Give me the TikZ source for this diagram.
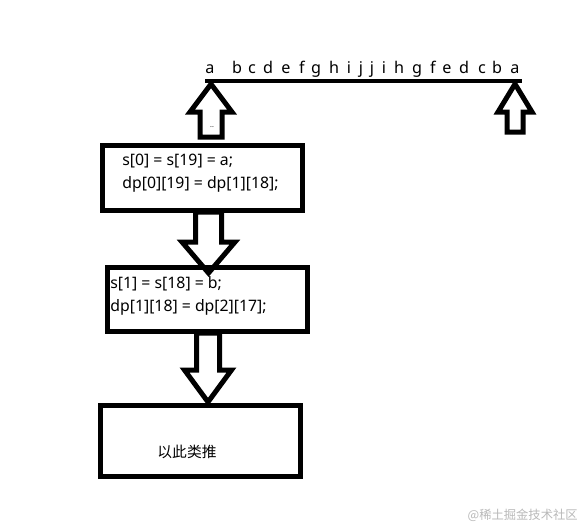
\documentclass[tikz,border=0pt]{standalone}
\usepackage{fontspec}
\setmainfont{Noto Sans}
\newfontfamily\cjk{Noto Sans CJK SC}
\usetikzlibrary{positioning}
\definecolor{MarkGray}{RGB}{185,185,185}
% block arrow: centre x, start y, head y, tip y, shaft half width, head half width
\newcommand\blockarrow[6]{%
  \draw[barrow] ({#1-#5},#2) -- ({#1-#5},#3) -- ({#1-#6},#3) -- (#1,#4)
    -- ({#1+#6},#3) -- ({#1+#5},#3) -- ({#1+#5},#2) -- cycle;}

\begin{document}
\begin{tikzpicture}[x=0.02cm,y=-0.02cm,
  box/.style={draw,line width=0.1cm,minimum width=4.02cm,inner sep=0pt},
  barrow/.style={draw,line width=0.1cm,line join=miter,fill=white},
  txt/.style={font=\fontsize{9pt}{10pt}\selectfont,inner sep=0pt,anchor=base west},
  letter/.style={font=\fontsize{9.2pt}{10pt}\selectfont,inner sep=0pt,anchor=base},
]
\useasboundingbox[fill=white] (0,0) rectangle (584,528);

% string on top
\foreach \ch/\xx [count=\i] in {a/210,b/237,c/252,d/268,e/286,f/302,g/316,h/334,i/349,j/361,
    j/372,i/384,h/399,g/417,f/433,e/447,d/464,c/482,b/497,a/515}
  \node[letter] (ch\i) at (\xx,73) {\ch};
\coordinate (lineL) at (205,81);
\coordinate (lineR) at (522,81);
\draw[line width=0.08cm] (lineL) -- (lineR);

% pointers
\blockarrow{211}{137}{112}{84}{11}{21}
\blockarrow{515}{132}{112}{84}{8}{17}
\node[font=\fontsize{4pt}{5pt}\selectfont,inner sep=0pt] (dots) at (212,127) {..};

% boxes
\node[box,minimum height=1.3cm] (first) at (202.5,177.5) {};
\node[txt] (first1) at (122,165) {s[0] = s[19] = a;};
\node[txt] (first2) at (122,188) {dp[0][19] = dp[1][18];};

\blockarrow{208.5}{212}{242}{273}{13}{26.5}

\node[box,minimum height=1.28cm] (second) at (207.5,299) {};
\node[txt] (second1) at (110,288) {s[1] = s[18] = b;};
\node[txt] (second2) at (110,311) {dp[1][18] = dp[2][17];};

\blockarrow{208}{333}{370}{402}{11.5}{23.5}

\node[box,minimum height=1.42cm] (rest) at (200.5,440.5) {};
\node[font=\cjk\fontsize{8.4pt}{10pt}\selectfont,inner sep=0pt] (restlabel) at (187,452) {以此类推};

\node[font=\cjk\fontsize{7pt}{8pt}\selectfont,text=MarkGray,inner sep=0pt,anchor=east] (mark) at (578,515) {@稀土掘金技术社区};
\end{tikzpicture}
\end{document}
